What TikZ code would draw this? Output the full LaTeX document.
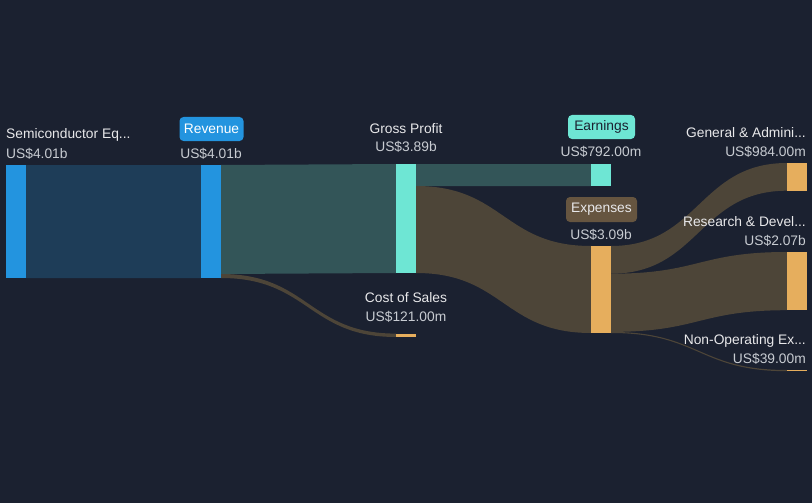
\documentclass[tikz,border=0pt]{standalone}
\usepackage{fontspec}
\setmainfont{Liberation Sans}
\definecolor{bg}{HTML}{1B2130}
\definecolor{bluebar}{HTML}{2394DF}
\definecolor{bluelink}{HTML}{1E3D58}
\definecolor{teallink}{HTML}{335558}
\definecolor{tealbar}{HTML}{6EE6D4}
\definecolor{brownlink}{HTML}{4D4538}
\definecolor{orangebar}{HTML}{E6AE5D}
\definecolor{brownpill}{HTML}{665540}
\definecolor{namecol}{HTML}{E8E8EA}
\definecolor{valcol}{HTML}{C8CCD2}
\newcommand\sankeyband[7]{%
  \fill[#7] (#1,#2) .. controls ({(#1+#4)/2},#2) and ({(#1+#4)/2},#5) .. (#4,#5)
    -- (#4,#6) .. controls ({(#1+#4)/2},#6) and ({(#1+#4)/2},#3) .. (#1,#3) -- cycle;}
\tikzset{
  bar/.style={anchor=north west, inner sep=0pt, minimum width=20pt, draw=none},
  lblname/.style={text=namecol, font=\fontsize{13.8}{16}\selectfont, inner sep=0pt},
  lblval/.style={text=valcol, font=\fontsize{13.8}{16}\selectfont, inner sep=0pt},
  pill/.style={rounded corners=4pt, font=\fontsize{13.8}{16}\selectfont, inner sep=0pt, minimum height=24pt},
}
\begin{document}
\begin{tikzpicture}[x=1pt,y=-1pt]
\fill[bg] (0,0) rectangle (812,503);
\useasboundingbox (0,0) rectangle (812,503);
% links
\sankeyband{26}{165}{278}{201}{165}{278}{bluelink}
\sankeyband{221}{165}{274}{396}{164}{273}{teallink}
\sankeyband{221}{274}{278}{396}{333.6}{337}{brownlink}
\sankeyband{416}{164}{186}{591}{164}{186}{teallink}
\sankeyband{416}{186}{273}{591}{246}{333}{brownlink}
\sankeyband{611}{246}{273.7}{787}{163}{190.7}{brownlink}
\sankeyband{611}{273.7}{331.9}{787}{252}{310.2}{brownlink}
\sankeyband{611}{331.9}{333}{787}{370}{371.2}{brownlink}
% bars
\node[bar, fill=bluebar, minimum height=113pt] (semi) at (6,165) {};
\node[bar, fill=bluebar, minimum height=113pt] (rev) at (201,165) {};
\node[bar, fill=tealbar, minimum height=109pt] (gp) at (396,164) {};
\node[bar, fill=orangebar, minimum height=3.4pt] (cos) at (396,333.6) {};
\node[bar, fill=tealbar, minimum height=22pt] (earn) at (591,164) {};
\node[bar, fill=orangebar, minimum height=87pt] (exp) at (591,246) {};
\node[bar, fill=orangebar, minimum height=27.7pt] (ga) at (787,163) {};
\node[bar, fill=orangebar, minimum height=58.2pt] (rd) at (787,252) {};
\node[bar, fill=orangebar, minimum height=1.2pt] (nonop) at (787,370) {};
% labels
\node[lblname, anchor=base west] (seminame) at (6,139) {Semiconductor Eq...};
\node[lblval, anchor=base west] (semival) at (6,158) {US\$4.01b};
\node[pill, fill=bluebar, text=white, minimum width=64pt] (revpill) at (211.5,129) {Revenue};
\node[lblval, anchor=base] (revval) at (211,158) {US\$4.01b};
\node[lblname, anchor=base] (gpname) at (406,133) {Gross Profit};
\node[lblval, anchor=base] (gpval) at (406,151.7) {US\$3.89b};
\node[pill, fill=tealbar, text=bg, minimum width=67pt] (earnpill) at (601.5,127) {Earnings};
\node[lblval, anchor=base] (earnval) at (601,157) {US\$792.00m};
\node[pill, fill=brownpill, text=namecol, minimum width=71pt, minimum height=25pt] (exppill) at (601.5,209.5) {Expenses};
\node[lblval, anchor=base] (expval) at (601,239) {US\$3.09b};
\node[lblname, anchor=base] (cosname) at (406,302) {Cost of Sales};
\node[lblval, anchor=base] (cosval) at (406,321) {US\$121.00m};
\node[lblname, anchor=base east] (ganame) at (806,138) {General \& Admini...};
\node[lblval, anchor=base east] (gaval) at (806,157) {US\$984.00m};
\node[lblname, anchor=base east] (rdname) at (806,226) {Research \& Devel...};
\node[lblval, anchor=base east] (rdval) at (806,245) {US\$2.07b};
\node[lblname, anchor=base east] (nonopname) at (806,344) {Non-Operating Ex...};
\node[lblval, anchor=base east] (nonopval) at (806,363) {US\$39.00m};
\end{tikzpicture}
\end{document}
